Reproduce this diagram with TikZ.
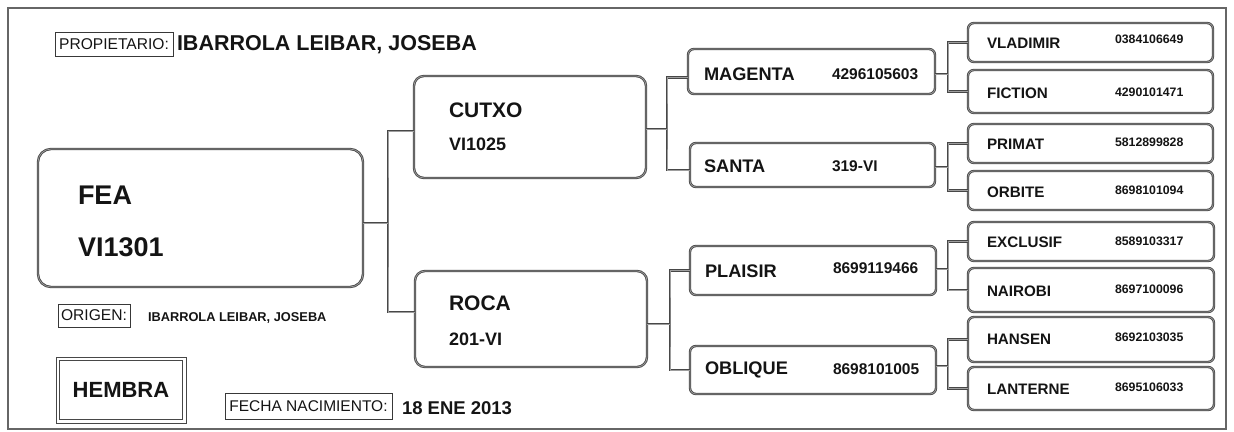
\documentclass[tikz,border=0pt]{standalone}
\usepackage{fontspec}
\setmainfont{Liberation Sans}
\usetikzlibrary{calc}
\newcommand\setfs[1]{\fontsize{#1}{#1}\selectfont}
\begin{document}
\begin{tikzpicture}[x=1pt,y=-1pt,
  every node/.style={inner sep=0pt, outer sep=0pt, text=black!92},
  gbox/.style={draw=black!72, double=black!38, double distance=0.7pt, line width=0.85pt, rounded corners=#1},
  gbox/.default=6pt,
  conn/.style={draw=black!72, double=black!38, double distance=0.7pt, line width=0.85pt},
  frame/.style={draw=black!60, line width=2.4pt},
  lbl/.style={draw=black!78, line width=0.9pt, font=\setfs{15.6}},
  tx/.style={anchor=base west},
  n0/.style={tx, font=\setfs{27}\bfseries},
  n1/.style={tx, font=\setfs{21}\bfseries},
  r1/.style={tx, font=\setfs{18}\bfseries},
  n2/.style={tx, font=\setfs{18.2}\bfseries},
  r2/.style={tx, font=\setfs{15.5}\bfseries},
  n3/.style={tx, font=\setfs{15.2}\bfseries},
  r3/.style={tx, font=\setfs{12.3}\bfseries}
]
\useasboundingbox (0,0) rectangle (1234,431);
\draw[frame] (8,8) rectangle (1226,429);

% header / footer labels
\node[lbl, minimum width=118pt, minimum height=24pt] (prop) at (114,44) {PROPIETARIO:};
\node[tx, font=\setfs{21.5}\bfseries] (owner) at (177,50.7) {IBARROLA LEIBAR, JOSEBA};
\node[lbl, minimum width=72pt, minimum height=23pt] (orig) at (94,315.5) {ORIGEN:};
\node[tx, font=\setfs{12.8}\bfseries] (origname) at (148,321.6) {IBARROLA LEIBAR, JOSEBA};
\node[draw=black!72, line width=1pt, minimum width=130pt, minimum height=66pt,
      font=\setfs{22}\bfseries] (sex) at (121,390) {HEMBRA};
\draw[draw=black!72, line width=1pt] ($(sex.north west)+(3.5,3.5)$) rectangle ($(sex.south east)+(-3.5,-3.5)$);
\node[lbl, minimum width=167pt, minimum height=26pt, font=\setfs{15.5}] (fecha) at (308.5,406) {FECHA NACIMIENTO:};
\node[tx, font=\setfs{18.5}\bfseries] (fechaval) at (402,414.6) {18 ENE 2013};

% generation 0
\node[gbox=13pt, minimum width=325pt, minimum height=138pt] (fea) at (200.5,218) {};
\node[n0] (feaN) at (78,204.7) {FEA};
\node[n0] (feaR) at (78,256.7) {VI1301};

% generation 1
\node[gbox=10pt, minimum width=232pt, minimum height=102pt] (cutxo) at (530,127) {};
\node[n1] at (449,117.5) {CUTXO};
\node[r1] at (449,150.4) {VI1025};
\node[gbox=10pt, minimum width=232pt, minimum height=96pt] (roca) at (531,319) {};
\node[n1] at (449,310.5) {ROCA};
\node[r1] at (449,345.4) {201-VI};

% generation 2
\node[gbox, minimum width=247pt, minimum height=45pt] (magenta) at (811.5,71.5) {};
\node[n2] at (704,80.5) {MAGENTA};
\node[r2] at (832,79.5) {4296105603};
\node[gbox, minimum width=245pt, minimum height=44pt] (santa) at (812.5,165) {};
\node[n2] at (704,172.5) {SANTA};
\node[r2] at (832,171.5) {319-VI};
\node[gbox, minimum width=246pt, minimum height=49pt] (plaisir) at (813,270.5) {};
\node[n2] at (705,277.5) {PLAISIR};
\node[r2] at (833,273.5) {8699119466};
\node[gbox, minimum width=246pt, minimum height=48pt] (oblique) at (813,370) {};
\node[n2] at (705,374.5) {OBLIQUE};
\node[r2] at (833,374.5) {8698101005};

% generation 3
\node[gbox, minimum width=245pt, minimum height=39pt] (vladimir) at (1090.5,42.5) {};
\node[n3] at (987,48.4) {VLADIMIR};
\node[r3] at (1115,43.4) {0384106649};
\node[gbox, minimum width=245pt, minimum height=43pt] (fiction) at (1090.5,91.5) {};
\node[n3] at (987,98.4) {FICTION};
\node[r3] at (1115,96.4) {4290101471};
\node[gbox, minimum width=245pt, minimum height=39pt] (primat) at (1090.5,143.5) {};
\node[n3] at (987,149.4) {PRIMAT};
\node[r3] at (1115,146.4) {5812899828};
\node[gbox, minimum width=245pt, minimum height=39pt] (orbite) at (1090.5,190.5) {};
\node[n3] at (987,197.4) {ORBITE};
\node[r3] at (1115,194.4) {8698101094};
\node[gbox, minimum width=246pt, minimum height=39pt] (exclusif) at (1091,241.5) {};
\node[n3] at (987,247.4) {EXCLUSIF};
\node[r3] at (1115,245.4) {8589103317};
\node[gbox, minimum width=246pt, minimum height=44pt] (nairobi) at (1091,290) {};
\node[n3] at (987,296.4) {NAIROBI};
\node[r3] at (1115,293.4) {8697100096};
\node[gbox, minimum width=246pt, minimum height=45pt] (hansen) at (1091,339.5) {};
\node[n3] at (987,344.4) {HANSEN};
\node[r3] at (1115,341.4) {8692103035};
\node[gbox, minimum width=246pt, minimum height=43pt] (lanterne) at (1091,388.5) {};
\node[n3] at (987,394.4) {LANTERNE};
\node[r3] at (1115,391.4) {8695106033};

% connectors
\coordinate (j0) at (388,223);
\draw[conn] ($(cutxo.west)+(0,4)$) -| (j0) |- ($(roca.west)+(0,-7)$);
\draw[conn] (fea.east |- j0) -- (j0);

\coordinate (j1) at (667,129);
\draw[conn] ($(magenta.west)+(0,6)$) -| (j1) |- ($(santa.west)+(0,5)$);
\draw[conn] (cutxo.east |- j1) -- (j1);

\coordinate (j2) at (670,324);
\draw[conn] (plaisir.west) -| (j2) |- (oblique.west);
\draw[conn] (roca.east |- j2) -- (j2);

\coordinate (j3) at (948,74);
\draw[conn] (vladimir.west) -| (j3) |- (fiction.west);
\draw[conn] (magenta.east |- j3) -- (j3);

\coordinate (j4) at (948,167);
\draw[conn] (primat.west) -| (j4) |- (orbite.west);
\draw[conn] (santa.east |- j4) -- (j4);

\coordinate (j5) at (948,269);
\draw[conn] (exclusif.west) -| (j5) |- (nairobi.west);
\draw[conn] (plaisir.east |- j5) -- (j5);

\coordinate (j6) at (948,366);
\draw[conn] (hansen.west) -| (j6) |- (lanterne.west);
\draw[conn] (oblique.east |- j6) -- (j6);
\end{tikzpicture}
\end{document}
